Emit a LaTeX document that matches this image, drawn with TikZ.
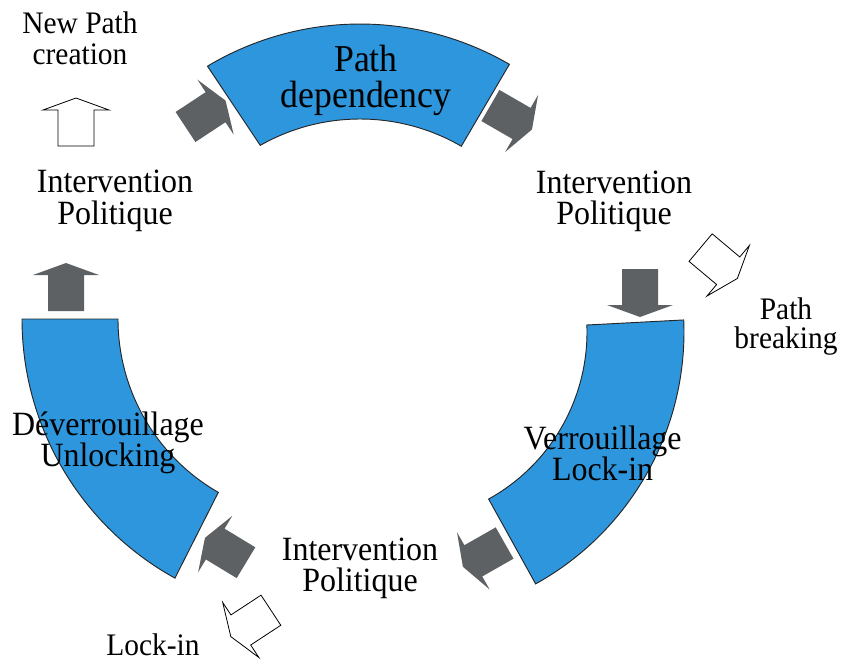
\documentclass[tikz,border=0pt]{standalone}
\usepackage{fontspec}
\setmainfont{Liberation Serif}[FakeStretch=0.94]
\usetikzlibrary{calc}
\definecolor{segblue}{RGB}{45,150,220}
\definecolor{arrgray}{RGB}{94,97,100}
\begin{document}
\begin{tikzpicture}[x=0.75pt,y=-0.75pt,
  segment/.style={fill=segblue,draw=black!85,line width=0.7pt},
  bigtxt/.style={font=\fontsize{25.5}{23.5}\selectfont,align=center,inner sep=0pt},
  pdtxt/.style={font=\fontsize{28.5}{26.5}\selectfont,align=center,inner sep=0pt},
  smalltxt/.style={font=\fontsize{23.5}{22}\selectfont,align=center,inner sep=0pt},
  grayarrow/.style={fill=arrgray,draw=none},
  whitearrow/.style={fill=white,draw=black,line width=0.6pt},
  blockarrow/.pic={\path[pic actions] (0,-18) -- (36,-18) -- (36,-33) -- (48,0) -- (36,33) -- (36,18) -- (0,18) -- cycle;}]
\useasboundingbox (0,0) rectangle (841,664);

% segments
\coordinate (ctop) at (360,321);
\coordinate (cleft) at (318,319);
\coordinate (cright) at (396,332);
\path[segment] (ctop) ++(-120.9:297) arc[start angle=-120.9, end angle=-59.8, radius=297]
  -- ($(ctop)+(-59.9:202)$) arc[start angle=-59.9, end angle=-119.6, radius=202] -- cycle;
\path[segment] (cleft) ++(180:296) arc[start angle=180, end angle=118.9, radius=296]
  -- ($(cleft)+(119.9:200)$) arc[start angle=119.9, end angle=180, radius=200] -- cycle;
\path[segment] (cright) ++(-2.4:288) arc[start angle=-2.4, end angle=61, radius=288]
  -- ($(cright)+(61:191)$) arc[start angle=61, end angle=-2.1, radius=191] -- cycle;

% gray arrows
\pic[grayarrow, rotate=90] at (66,311) {blockarrow};
\pic[grayarrow, rotate=33.4] at (185.5,127) {blockarrow};
\pic[grayarrow, rotate=-30] at (490.4,105.5) {blockarrow};
\pic[grayarrow, rotate=-90] at (640,269) {blockarrow};
\pic[grayarrow, rotate=-150.3] at (504.6,543) {blockarrow};
\pic[grayarrow, rotate=148.8] at (246,562.7) {blockarrow};

% white arrows
\pic[whitearrow, rotate=90] at (76,146) {blockarrow};
\pic[whitearrow, rotate=-40] at (700.6,247.6) {blockarrow};
\pic[whitearrow, rotate=-146.7] at (270.9,610.2) {blockarrow};

% labels
\node[pdtxt] (pd) at (366,80.5) {Path\\dependency};
\node[bigtxt] (ip1) at (115,201) {Intervention\\Politique};
\node[bigtxt] (ip2) at (614,201.6) {Intervention\\Politique};
\node[bigtxt] (ip3) at (360,568.3) {Intervention\\Politique};
\node[bigtxt] (unl) at (108,443) {Déverrouillage\\Unlocking};
\node[bigtxt] (lock) at (602.6,453.2) {Verrouillage\\Lock-in};
\node[smalltxt, font=\fontsize{23.5}{23}\selectfont] (npc) at (80,38) {New Path\\creation};
\node[smalltxt, font=\fontsize{23.5}{22}\selectfont] (pb) at (786,326.7) {Path\\breaking};
\node[smalltxt] (li) at (153,644.5) {Lock-in};
\end{tikzpicture}
\end{document}
